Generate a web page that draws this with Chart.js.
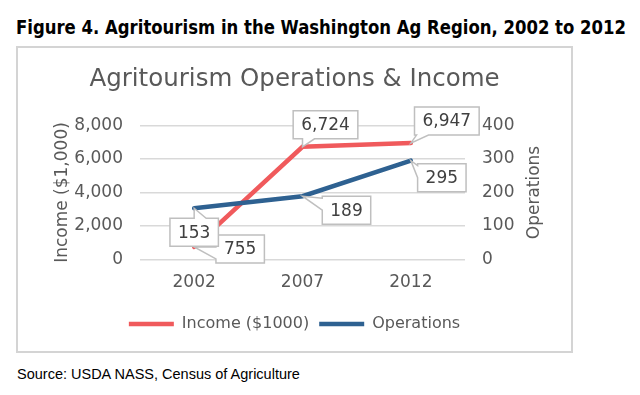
<!DOCTYPE html>
<html>
<head>
<meta charset="utf-8">
<script src="https://cdn.jsdelivr.net/npm/chart.js@4"></script>
<style>
  html, body { margin: 0; padding: 0; background: #fff; }
  body { width: 640px; height: 395px; position: relative; overflow: hidden; }
  #figTitle {
    position: absolute; left: 16px; top: 16px;
    font: bold 19px "DejaVu Sans Condensed", "Liberation Sans Narrow", sans-serif;
    color: #000; white-space: nowrap; transform-origin: 0 0;
  }
  #box {
    position: absolute; left: 16px; top: 46px; width: 553px; height: 303px;
    border: 2px solid #d4d4d4;
  }
  #source {
    position: absolute; left: 17px; top: 366px;
    font: 14.5px "Liberation Sans", Arial, sans-serif; color: #000; white-space: nowrap;
  }
</style>
</head>
<body>
<div id="figTitle">Figure 4. Agritourism in the Washington Ag Region, 2002 to 2012</div>
<div id="box"><canvas id="chart" width="553" height="303"></canvas></div>
<div id="source">Source: USDA NASS, Census of Agriculture</div>
<script>
// data
const years = ['2002', '2007', '2012'];
const income = [755, 6724, 6947];
const operations = [153, 189, 295];
const incomeTicks = [0, 2000, 4000, 6000, 8000];
const operationsTicks = [0, 100, 200, 300, 400];

const FONT = '"DejaVu Sans", Verdana, sans-serif';
const GREY_TEXT = '#595959';
const RED = '#f05a5c';
const BLUE = '#2e6191';

// callout box centre relative to its point (px)
const incomeLabelOffsets = [[46, 2], [23, -22], [36, -22]];
const operationsLabelOffsets = [[0, 24], [44, 14], [31, 17]];

// squeeze the heading to the width it has in the original
const figTitle = document.getElementById('figTitle');
figTitle.style.transform = 'scaleX(' + (610 / figTitle.getBoundingClientRect().width) + ')';

function clamp(v, a, b) { return Math.max(a, Math.min(b, v)); }

// Excel style data callouts: white box, grey border, wedge pointing at the point
const calloutPlugin = {
  id: 'callouts',
  afterDatasetsDraw(chart) {
    const ctx = chart.ctx;
    ctx.save();
    ctx.font = '17px ' + FONT;
    ctx.textAlign = 'center';
    ctx.textBaseline = 'middle';
    chart.data.datasets.forEach((ds, i) => {
      const meta = chart.getDatasetMeta(i);
      meta.data.forEach((pt, j) => {
        const text = ds.data[j].toLocaleString('en-US');
        const off = ds.labelOffsets[j];
        const w = ctx.measureText(text).width + 16;
        const h = 28;
        const cx = pt.x + off[0], cy = pt.y + off[1];
        const l = cx - w / 2, r = cx + w / 2, t = cy - h / 2, b = cy + h / 2;
        // which edge carries the pointer
        let edge = null, best = 0;
        const gaps = { top: t - pt.y, bottom: pt.y - b, left: l - pt.x, right: pt.x - r };
        Object.keys(gaps).forEach(k => { if (gaps[k] > best) { best = gaps[k]; edge = k; } });
        const bw = 12;
        ctx.beginPath();
        ctx.moveTo(l, t);
        if (edge === 'top') {
          const c = clamp(pt.x, l + 2, r - 2 - bw);
          ctx.lineTo(c, t); ctx.lineTo(pt.x, pt.y); ctx.lineTo(c + bw, t);
        }
        ctx.lineTo(r, t);
        if (edge === 'right') {
          const c = clamp(pt.y, t + 2, b - 2 - bw);
          ctx.lineTo(r, c); ctx.lineTo(pt.x, pt.y); ctx.lineTo(r, c + bw);
        }
        ctx.lineTo(r, b);
        if (edge === 'bottom') {
          const c = clamp(pt.x, l + 2, r - 2 - bw);
          ctx.lineTo(c + bw, b); ctx.lineTo(pt.x, pt.y); ctx.lineTo(c, b);
        }
        ctx.lineTo(l, b);
        if (edge === 'left') {
          const c = clamp(pt.y, t + 2, b - 2 - bw);
          ctx.lineTo(l, c + bw); ctx.lineTo(pt.x, pt.y); ctx.lineTo(l, c);
        }
        ctx.closePath();
        ctx.fillStyle = '#ffffff';
        ctx.fill();
        ctx.lineWidth = 1.5;
        ctx.strokeStyle = '#bfbfbf';
        ctx.stroke();
        ctx.fillStyle = '#404040';
        ctx.fillText(text, cx, cy + 1);
      });
    });
    ctx.restore();
  }
};

// both axis titles read bottom-to-top, as in Excel
const axisTitlePlugin = {
  id: 'axisTitles',
  afterDraw(chart) {
    const ctx = chart.ctx;
    const a = chart.chartArea;
    const midY = (a.top + a.bottom) / 2;
    ctx.save();
    ctx.font = '17px ' + FONT;
    ctx.fillStyle = GREY_TEXT;
    ctx.textAlign = 'center';
    ctx.textBaseline = 'middle';
    [[45, 'Income ($1,000)'], [517, 'Operations']].forEach(([x, label]) => {
      ctx.save();
      ctx.translate(x, midY);
      ctx.rotate(-Math.PI / 2);
      ctx.fillText(label, 0, 0);
      ctx.restore();
    });
    ctx.restore();
  }
};

new Chart(document.getElementById('chart'), {
  type: 'line',
  data: {
    labels: years,
    datasets: [{
      label: 'Income ($1000)',
      data: income,
      yAxisID: 'y',
      borderColor: RED,
      backgroundColor: RED,
      borderWidth: 4.5,
      borderCapStyle: 'round',
      pointRadius: 0,
      tension: 0,
      order: 1,
      labelOffsets: incomeLabelOffsets
    }, {
      label: 'Operations',
      data: operations,
      yAxisID: 'y1',
      borderColor: BLUE,
      backgroundColor: BLUE,
      borderWidth: 4.5,
      borderCapStyle: 'round',
      pointRadius: 0,
      tension: 0,
      order: 0,
      labelOffsets: operationsLabelOffsets
    }]
  },
  options: {
    responsive: false,
    animation: false,
    layout: { padding: { top: 0, left: 0, right: 0, bottom: 9 } },
    plugins: {
      title: {
        display: true,
        text: 'Agritourism Operations & Income',
        color: GREY_TEXT,
        font: { family: FONT, size: 24.5, weight: 'normal' },
        padding: { top: 17, bottom: 31 }
      },
      legend: {
        position: 'bottom',
        labels: {
          color: GREY_TEXT,
          font: { family: FONT, size: 16 },
          usePointStyle: true,
          pointStyle: 'line',
          pointStyleWidth: 45,
          boxWidth: 45,
          padding: 10,
          sort: (a, b) => a.datasetIndex - b.datasetIndex
        }
      },
      tooltip: { enabled: false }
    },
    scales: {
      x: {
        offset: true,
        grid: { display: false, drawTicks: false },
        border: { display: false },
        ticks: { color: GREY_TEXT, font: { family: FONT, size: 17 }, padding: 13 }
      },
      y: {
        position: 'left',
        min: incomeTicks[0],
        max: incomeTicks[incomeTicks.length - 1],
        afterBuildTicks: s => { s.ticks = incomeTicks.map(v => ({ value: v })); },
        grid: { color: '#d9d9d9', lineWidth: 1.5, drawTicks: false },
        border: { display: false },
        ticks: {
          color: GREY_TEXT, font: { family: FONT, size: 17 }, padding: 17,
          callback: v => v.toLocaleString('en-US')
        },
        afterFit: s => { s.width = 122; }
      },
      y1: {
        position: 'right',
        min: operationsTicks[0],
        max: operationsTicks[operationsTicks.length - 1],
        afterBuildTicks: s => { s.ticks = operationsTicks.map(v => ({ value: v })); },
        grid: { display: false, drawTicks: false },
        border: { display: false },
        ticks: { color: GREY_TEXT, font: { family: FONT, size: 17 }, padding: 17 },
        afterFit: s => { s.width = 106; }
      }
    }
  },
  plugins: [calloutPlugin, axisTitlePlugin]
});
</script>
</body>
</html>
